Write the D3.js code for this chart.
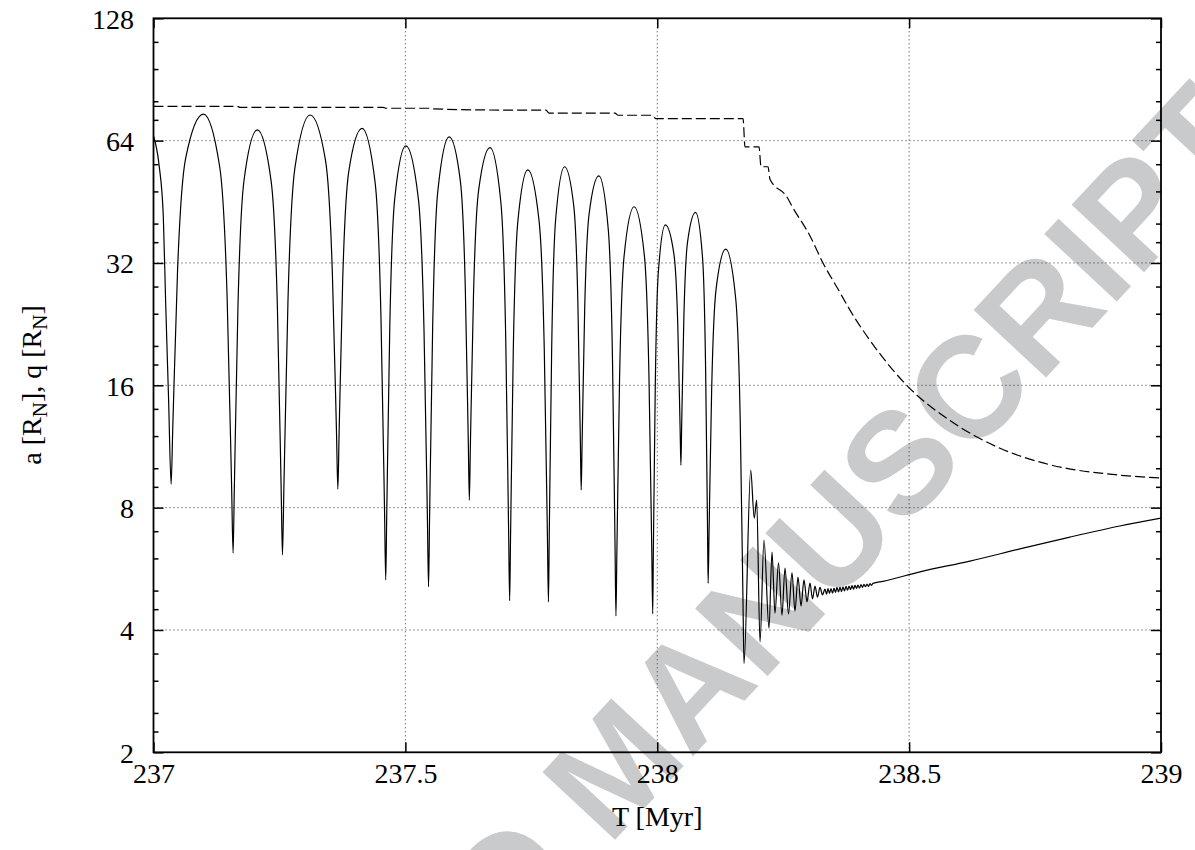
<!DOCTYPE html>
<html><head><meta charset="utf-8">
<script src="https://cdn.jsdelivr.net/npm/d3@7"></script>
<style>body{margin:0;background:#fff}svg{display:block}</style>
</head><body><svg id="c" width="1195" height="850"></svg>
<script>
// ---------- data ----------
const xTicks = [237, 237.5, 238, 238.5, 239];
const yTicks = [2, 4, 8, 16, 32, 64, 128];
const yMinorTicks = [2.25,2.5,3,3.5, 4.5,5,6,7, 9,10,12,14, 18,20,24,28, 36,40,48,56, 72,80,96,112];
const xTitle = "T [Myr]";
const watermark = "ACCEPTED MANUSCRIPT";

// q (pericentre) – solid line
const tQ = [
237.000,237.011,237.0195,237.024,237.030,237.035,
237.0382,237.0478,237.0638,237.099,237.1314,237.1462,237.1551,237.158,
237.1604,237.1676,237.1796,237.206,237.2335,237.246,237.2535,237.256,
237.2588,237.267,237.2808,237.311,237.3413,237.355,237.3633,237.366,
237.3684,237.3756,237.3876,237.414,237.4399,237.4516,237.4587,237.461,
237.463,237.469,237.479,237.501,237.5258,237.537,237.5438,237.546,
237.548,237.5542,237.5645,237.587,237.609,237.619,237.625,237.627,
237.629,237.6352,237.6455,237.668,237.6895,237.6992,237.705,237.707,
237.7088,237.7142,237.7232,237.743,237.7656,237.7758,237.782,237.784,
237.7856,237.7904,237.7984,237.816,237.8342,237.8424,237.8474,237.849,
237.8508,237.856,237.8648,237.884,237.9027,237.9112,237.9163,237.918,
237.9198,237.9252,237.9342,237.954,237.9744,237.9836,237.9892,237.991,
237.9922,237.996,238.0022,238.016,238.033,238.0408,238.0454,238.047,
238.0484,238.0528,238.060,238.076,238.0898,238.096,238.0998,238.101,
238.1028,238.108,238.1168,238.136,238.1558,238.1648,238.1702,238.1722,
238.1855,238.1925,238.1974,238.2040,238.2119,238.2218,238.2278,238.2337,
238.2407,238.2476,238.2536,238.2605,238.2675,238.2734,238.2794,238.2854,
238.2913,238.2973,238.3032,238.3082,238.3132,238.3181,238.3231,238.3280,
238.3330,238.3360,238.3390,238.3419,238.3449,238.3479,238.3509,238.3539,
238.3568,238.3598,238.3628,238.3658,238.3687,238.3717,238.3747,238.3777,
238.3807,238.3837,238.3866,238.3896,238.3926,238.3956,238.3985,238.4015,
238.4045,238.4074,238.4104,238.4134,238.4164,238.4194,238.4223,238.4253,
238.4283,238.448,238.5216,238.6206,238.7198,238.8191,238.9183,239.000
];
const q = [
65.7,55.8,41.6,25.9,14.7,9.13,
12.5,30.8,57.9,74.4,55.2,26.2,8.97,6.18,
8.85,24.8,51.0,68.0,50.9,24.7,8.78,6.12,
8.90,26.0,54.9,74.0,57.4,30.4,12.2,8.88,
12.1,29.1,53.7,68.6,50.5,23.4,7.79,5.31,
7.67,22.1,46.2,62.1,46.0,21.8,7.44,5.11,
7.50,22.4,48.2,65.4,51.1,27.6,11.4,8.35,
11.3,26.6,48.4,61.5,45.2,20.9,6.94,4.72,
6.81,19.4,40.4,54.2,40.4,19.4,6.77,4.69,
6.79,19.6,41.1,55.2,44.3,25.6,11.6,8.84,
11.5,24.8,42.3,52.4,38.8,18.4,6.29,4.33,
6.13,16.6,33.3,44.0,33.4,16.7,6.19,4.38,
6.09,15.7,30.4,39.7,33.7,22.4,12.5,10.18,
12.6,23.4,35.9,42.6,33.1,17.6,7.14,5.21,
6.92,15.6,27.6,34.6,26.1,12.9,4.71,3.31,
9.90,7.54,8.35,3.74,6.66,4.04,6.22,4.40,
5.85,4.35,5.68,4.38,5.53,4.45,5.40,4.58,
5.31,4.69,5.22,4.77,5.13,4.82,5.09,4.88,
5.04,4.90,5.06,4.92,5.06,4.93,5.07,4.95,
5.09,4.96,5.10,4.97,5.11,4.99,5.12,5.01,
5.13,5.03,5.14,5.04,5.15,5.06,5.16,5.07,
5.17,5.09,5.18,5.11,5.19,5.12,5.20,5.15,
5.21,5.27,5.56,5.91,6.33,6.77,7.21,7.54
];

// a (semi-major axis) – dashed line
const tA = [237.000,237.166,237.172,237.4556,237.4615,237.5489,237.5548,237.7077,237.7792,237.7851,
237.9161,237.9221,237.9896,237.9975,238.1703,238.1742,238.2020,238.2060,238.2199,238.2238,
238.2570,238.2695,238.3032,238.3290,238.3588,238.3826,238.4382,238.4952,238.5812,238.6804,
238.7797,238.9127,239.000];
const a = [77.7,77.7,77.3,77.3,76.9,76.9,76.6,76.1,76.1,74.8,
74.8,73.9,73.9,72.5,72.5,61.8,61.8,55.2,55.2,51.4,
46.6,43.7,37.3,32.0,27.6,24.5,19.4,16.0,13.1,11.2,
10.2,9.63,9.46];

// ---------- drawing ----------
(function draw() {
const W = 1195, H = 850;
const m = {l: 153.5, r: 1161, t: 18.3, b: 752.3};
const x = d3.scaleLinear().domain([237, 239]).range([m.l, m.r]);
const y = d3.scaleLog().base(2).domain([2, 128]).range([m.b, m.t]);
const serif = "'Liberation Serif','Times New Roman',Times,serif";

const svg = d3.select("#c");
svg.append("rect").attr("width", W).attr("height", H).attr("fill", "#fff");

// watermark
svg.append("text")
  .attr("transform", "translate(652,800) rotate(-47)")
  .attr("text-anchor", "middle")
  .attr("font-family", "'Liberation Sans',Arial,sans-serif")
  .attr("font-weight", "bold")
  .attr("font-size", 144)
  .attr("fill", "#c9cacc")
  .text(watermark);

// grid
const grid = svg.append("g").attr("stroke", "#333").attr("stroke-width", 1)
  .attr("stroke-dasharray", "1,3").attr("fill", "none");
xTicks.slice(1, -1).forEach(v => grid.append("line")
  .attr("x1", x(v)).attr("x2", x(v)).attr("y1", m.b).attr("y2", m.t));
yTicks.slice(1, -1).forEach(v => grid.append("line")
  .attr("y1", y(v)).attr("y2", y(v)).attr("x1", m.l).attr("x2", m.r));

// clip
svg.append("clipPath").attr("id", "clip").append("rect")
  .attr("x", m.l).attr("y", m.t).attr("width", m.r - m.l).attr("height", m.b - m.t);

const ptsQ = tQ.map((t, i) => [t, q[i]]);
const ptsA = tA.map((t, i) => [t, a[i]]);
const line = d3.line().x(d => x(d[0])).y(d => y(d[1])).curve(d3.curveMonotoneX);

svg.append("path").attr("clip-path", "url(#clip)").attr("d", line(ptsA))
  .attr("fill", "none").attr("stroke", "#000").attr("stroke-width", 1.2)
  .attr("stroke-dasharray", "10,4");
svg.append("path").attr("clip-path", "url(#clip)").attr("d", line(ptsQ))
  .attr("fill", "none").attr("stroke", "#000").attr("stroke-width", 1.2)
  .attr("stroke-linejoin", "round");

// axes
function styleAxis(g) {
  g.select(".domain").remove();
  g.selectAll(".tick line").attr("stroke", "#000").attr("stroke-width", 1.5);
  g.selectAll("text").attr("font-family", serif).attr("font-size", 28).attr("fill", "#000");
}
const axL = svg.append("g").attr("transform", `translate(${m.l},0)`)
  .call(d3.axisLeft(y).tickValues(yTicks).tickFormat(d3.format("d")).tickSize(-10).tickPadding(19.5));
styleAxis(axL);
axL.selectAll("text").attr("dy", null).attr("y", 10);
const axLm = svg.append("g").attr("transform", `translate(${m.l},0)`)
  .call(d3.axisLeft(y).tickValues(yMinorTicks).tickFormat("").tickSize(-5));
styleAxis(axLm);
const axR = svg.append("g").attr("transform", `translate(${m.r},0)`)
  .call(d3.axisRight(y).tickValues(yTicks).tickFormat("").tickSize(-10));
styleAxis(axR);
const axRm = svg.append("g").attr("transform", `translate(${m.r},0)`)
  .call(d3.axisRight(y).tickValues(yMinorTicks).tickFormat("").tickSize(-5));
styleAxis(axRm);
const axB = svg.append("g").attr("transform", `translate(0,${m.b})`)
  .call(d3.axisBottom(x).tickValues(xTicks).tickFormat(d => String(d)).tickSize(-10));
styleAxis(axB);
axB.selectAll("text").attr("dy", null).attr("y", 31);
const axT = svg.append("g").attr("transform", `translate(0,${m.t})`)
  .call(d3.axisTop(x).tickValues(xTicks).tickFormat("").tickSize(-10));
styleAxis(axT);

// border
svg.append("rect").attr("x", m.l).attr("y", m.t).attr("width", m.r - m.l).attr("height", m.b - m.t)
  .attr("fill", "none").attr("stroke", "#000").attr("stroke-width", 1.8);

// titles
svg.append("text").attr("x", x(238)).attr("y", 826).attr("text-anchor", "middle")
  .attr("font-family", serif).attr("font-size", 28).text(xTitle);

const yl = svg.append("text").attr("transform", "translate(41,385) rotate(-90)")
  .attr("text-anchor", "middle").attr("font-family", serif).attr("font-size", 28);
yl.append("tspan").text("a [R");
yl.append("tspan").attr("font-size", 21).attr("dy", 6).text("N");
yl.append("tspan").attr("dy", -6).text("], q [R");
yl.append("tspan").attr("font-size", 21).attr("dy", 6).text("N");
yl.append("tspan").attr("dy", -6).text("]");
})();
</script></body></html>
